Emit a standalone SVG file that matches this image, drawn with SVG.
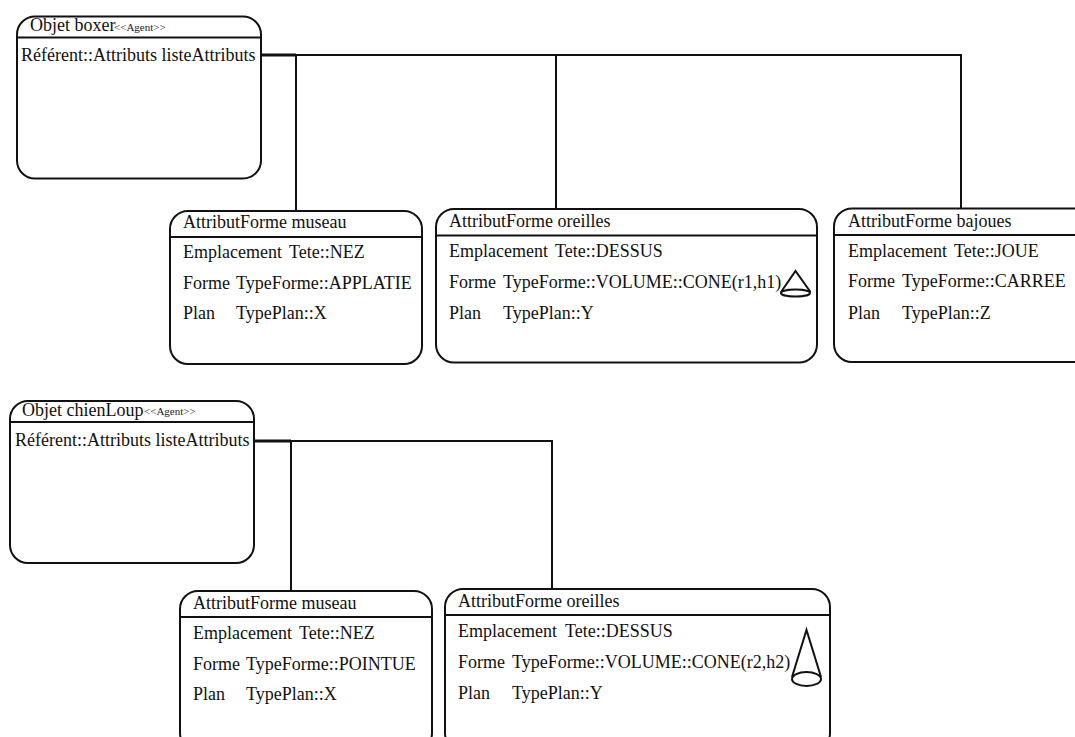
<svg xmlns="http://www.w3.org/2000/svg" width="1075" height="737" viewBox="0 0 1075 737">
<style>
text{font-family:"Liberation Serif","Times New Roman",serif;fill:#111}
.t{font-size:18px}
.s{font-size:11px;fill:#222}
.b{fill:#fff;stroke:#111;stroke-width:2}
.l{fill:none;stroke:#111;stroke-width:2}
.c{fill:none;stroke:#111;stroke-width:2}
</style>
<rect width="1075" height="737" fill="#fff"/>
<g id="connectors">
<path class="c" d="M260 55H961V209M296 55V211M556 55V209"/>
<path class="c" d="M260 55H296" stroke-width="3" style="stroke-width:3"/>
<path class="c" d="M254 441H552V590M291 441V591"/>
<path class="c" d="M254 441H291" style="stroke-width:3"/>
</g>
<g id="boxer">
<rect class="b" x="17" y="16.500" width="244" height="162" rx="18"/>
<path class="l" d="M17 37.500H261"/>
<text class="t" x="30" y="31">Objet boxer</text><text class="s" x="114" y="31">&lt;&lt;Agent&gt;&gt;</text>
<text class="t" x="21" y="61">Référent::Attributs listeAttributs</text>
</g>
<g id="museau1">
<rect class="b" x="170" y="211" width="252" height="153" rx="18"/>
<path class="l" d="M170 237H422"/>
<text class="t" x="183" y="228">AttributForme museau</text>
<text class="t" x="183" y="258">Emplacement</text><text class="t" x="289" y="258">Tete::NEZ</text>
<text class="t" x="183" y="289">Forme</text><text class="t" x="236" y="289">TypeForme::APPLATIE</text>
<text class="t" x="183" y="319">Plan</text><text class="t" x="236" y="319">TypePlan::X</text>
</g>
<g id="oreilles1">
<rect class="b" x="436" y="209" width="381" height="153.500" rx="18"/>
<path class="l" d="M436 235.500H817"/>
<text class="t" x="449" y="227">AttributForme oreilles</text>
<text class="t" x="449" y="257">Emplacement</text><text class="t" x="555" y="257">Tete::DESSUS</text>
<text class="t" x="449" y="288">Forme</text><text class="t" x="503" y="288">TypeForme::VOLUME::CONE(r1,h1)</text>
<text class="t" x="449" y="319">Plan</text><text class="t" x="503" y="319">TypePlan::Y</text>
<path class="l" d="M781 292L795.500 271L810.500 292"/><ellipse class="l" cx="795.500" cy="293" rx="14.500" ry="3.500"/>
</g>
<g id="bajoues">
<rect class="b" x="834" y="208.500" width="260" height="153.500" rx="18"/>
<path class="l" d="M834 235H1094"/>
<text class="t" x="848" y="227">AttributForme bajoues</text>
<text class="t" x="848" y="257">Emplacement</text><text class="t" x="954" y="257">Tete::JOUE</text>
<text class="t" x="848" y="287">Forme</text><text class="t" x="902" y="287">TypeForme::CARREE</text>
<text class="t" x="848" y="319">Plan</text><text class="t" x="902" y="319">TypePlan::Z</text>
</g>
<g id="chienLoup">
<rect class="b" x="10" y="401" width="244" height="162" rx="18"/>
<path class="l" d="M10 422H254"/>
<text class="t" x="22" y="416">Objet chienLoup</text><text class="s" x="144" y="415">&lt;&lt;Agent&gt;&gt;</text>
<text class="t" x="15" y="446">Référent::Attributs listeAttributs</text>
</g>
<g id="museau2">
<rect class="b" x="180" y="591" width="252" height="160" rx="18"/>
<path class="l" d="M180 617H432"/>
<text class="t" x="193" y="609">AttributForme museau</text>
<text class="t" x="193" y="639">Emplacement</text><text class="t" x="299" y="639">Tete::NEZ</text>
<text class="t" x="193" y="670">Forme</text><text class="t" x="246" y="670">TypeForme::POINTUE</text>
<text class="t" x="193" y="700">Plan</text><text class="t" x="246" y="700">TypePlan::X</text>
</g>
<g id="oreilles2">
<rect class="b" x="445" y="589" width="385" height="162" rx="18"/>
<path class="l" d="M445 615H830"/>
<text class="t" x="458" y="607">AttributForme oreilles</text>
<text class="t" x="458" y="637">Emplacement</text><text class="t" x="565" y="637">Tete::DESSUS</text>
<text class="t" x="458" y="668">Forme</text><text class="t" x="512" y="668">TypeForme::VOLUME::CONE(r2,h2)</text>
<text class="t" x="458" y="699">Plan</text><text class="t" x="512" y="699">TypePlan::Y</text>
<path class="l" d="M792 677L806.500 630L821 677"/><ellipse class="l" cx="806.500" cy="679" rx="14.500" ry="7"/>
</g>
</svg>
